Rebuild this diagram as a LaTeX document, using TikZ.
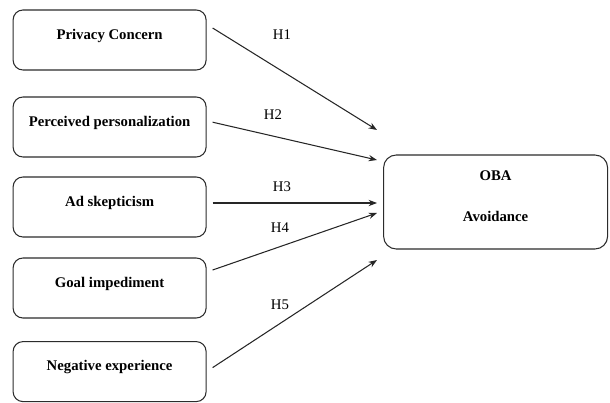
\documentclass[tikz,border=0pt]{standalone}
\usepackage{fontspec}
\setmainfont{Liberation Serif}
\usepackage{tikz}
\usetikzlibrary{arrows.meta,positioning}
\definecolor{BoxLine}{HTML}{2B2B2B}

\begin{document}
\begin{tikzpicture}[font=\fontsize{10.5}{12.5}\selectfont, >={Stealth[length=6pt,width=4.5pt]},
  factor/.style={rounded corners=7pt, draw=BoxLine, line width=0.75pt, minimum width=4.825cm, minimum height=1.5cm, align=center, text depth=0.3cm, font=\fontsize{10.5}{12.5}\selectfont\bfseries},
  outcome/.style={rounded corners=9pt, draw=BoxLine, line width=0.75pt, minimum width=5.6cm, minimum height=2.35cm, align=center, text depth=0.3cm, font=\fontsize{10.5}{12.5}\selectfont\bfseries},
  hyp/.style={->, line width=0.75pt, black!85},
  hlabel/.style={inner sep=1pt}]
\useasboundingbox (0,0) rectangle (15.25,-10.05);
\node[factor] (privacy) at (2.74,-1.0) {Privacy Concern};
\node[factor] (personal) at (2.74,-3.175) {Perceived personalization};
\node[factor] (skeptic) at (2.74,-5.175) {Ad skepticism};
\node[factor] (goal) at (2.74,-7.2) {Goal impediment};
\node[factor] (negative) at (2.74,-9.29) {Negative experience};
\node[outcome] (oba) at (12.39,-5.05) {OBA\\[0.6cm]Avoidance};
\coordinate (end1) at (9.425,-3.25);
\coordinate (end2) at (9.425,-4.0);
\coordinate (end3) at (9.425,-5.075);
\coordinate (end4) at (9.425,-5.325);
\coordinate (end5) at (9.425,-6.5);
\draw[hyp] ([xshift=0.15cm,yshift=0.3cm]privacy.east) -- (end1);
\draw[hyp] ([xshift=0.15cm,yshift=0.12cm]personal.east) -- (end2);
\draw[hyp] ([xshift=0.15cm,yshift=0.1cm]skeptic.east) -- (end3);
\draw[hyp] ([xshift=0.15cm,yshift=0.45cm]goal.east) -- (end4);
\draw[hyp] ([xshift=0.15cm,yshift=0.1cm]negative.east) -- (end5);
\node[hlabel] (h1) at (7.05,-0.875) {H1};
\node[hlabel] (h2) at (6.825,-2.875) {H2};
\node[hlabel] (h3) at (7.05,-4.675) {H3};
\node[hlabel] (h4) at (7.0,-5.7) {H4};
\node[hlabel] (h5) at (7.0,-7.625) {H5};
\end{tikzpicture}
\end{document}
